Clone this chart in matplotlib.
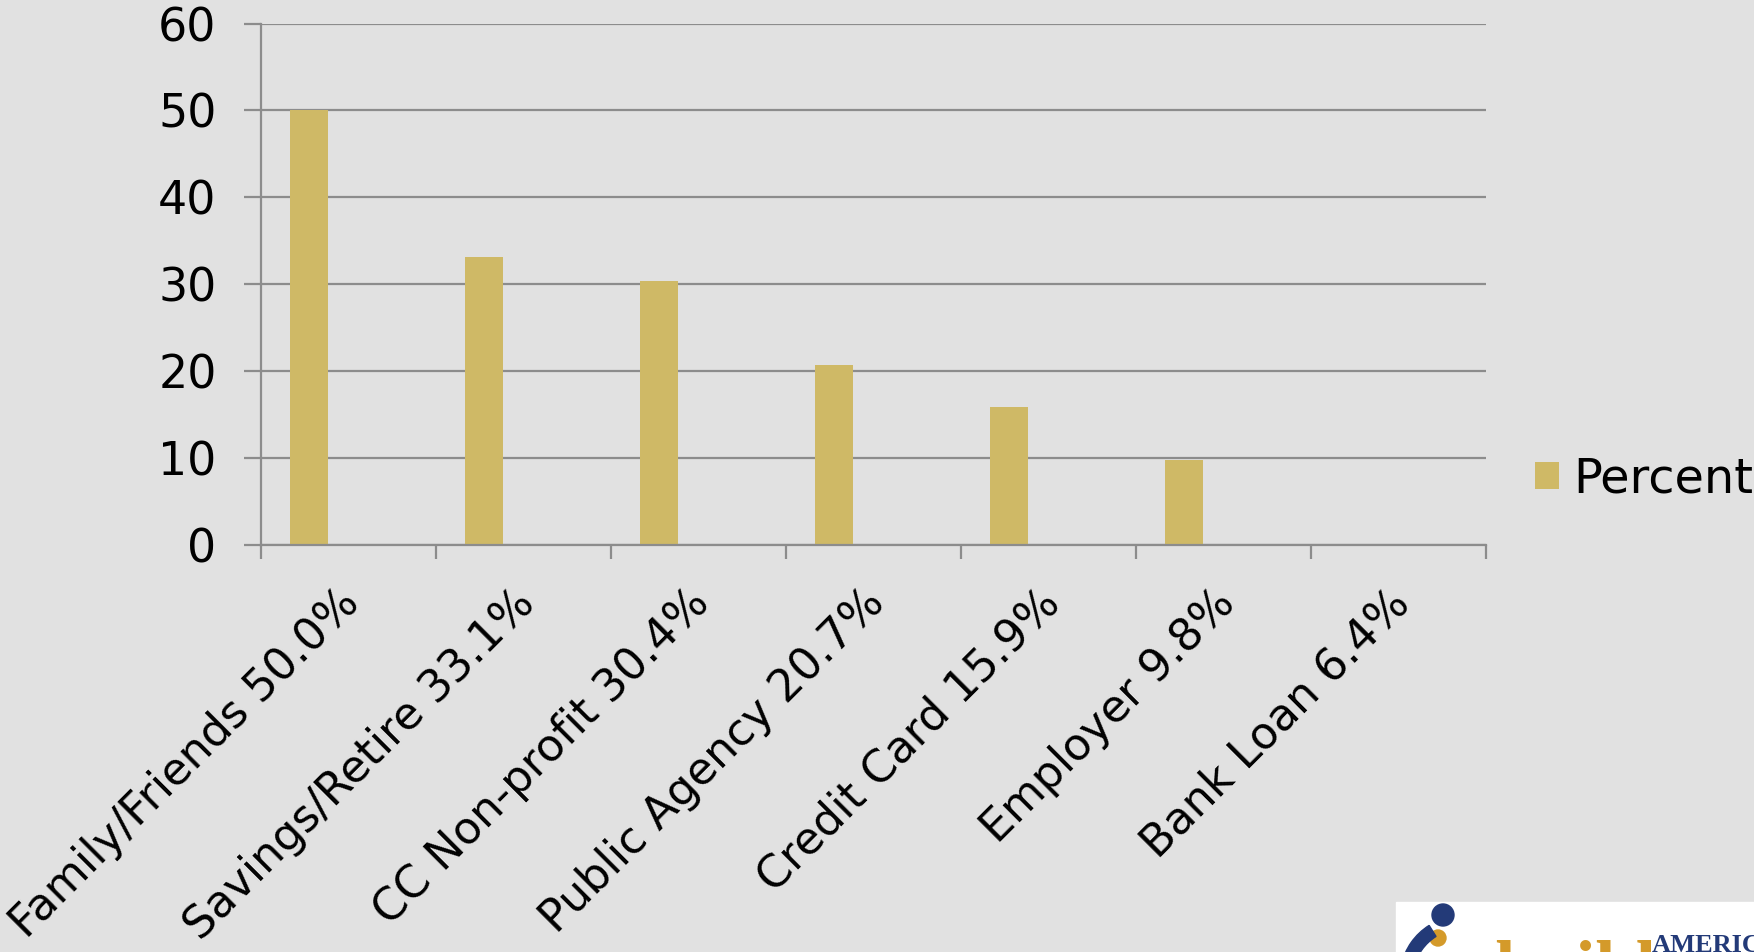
import numpy as np
import matplotlib
matplotlib.use('Agg')
import matplotlib.pyplot as plt
from matplotlib.patches import Rectangle, Circle, Wedge
from matplotlib.transforms import ScaledTranslation

categories = ['Family/Friends 50.0%', 'Savings/Retire 33.1%', 'CC Non-profit 30.4%',
              'Public Agency 20.7%', 'Credit Card 15.9%', 'Employer 9.8%', 'Bank Loan 6.4%']
# Bank Loan has no bar in the source series
percent = [50.0, 33.1, 30.4, 20.7, 15.9, 9.8, np.nan]
series_name = 'Percent'
y_ticks = [0, 10, 20, 30, 40, 50, 60]

BG = '#e1e1e1'
BAR = '#cfb966'
GRID = '#8c8c8c'
NAVY = '#233a78'
GOLD = '#d49a2a'

plt.rcParams['font.family'] = ['DejaVu Sans']

W, H = 1754, 952
fig = plt.figure(figsize=(W / 100, H / 100), dpi=100, facecolor=BG)
ax = fig.add_axes([261 / W, 1 - 545 / H, (1486 - 261) / W, (545 - 23.5) / H])
ax.set_facecolor(BG)

x = np.arange(len(categories))
ax.bar(x - 0.225, percent, width=0.22, color=BAR, label=series_name, zorder=3)

ax.set_xlim(-0.5, len(categories) - 0.5)
ax.set_ylim(0, 60)
ax.set_yticks(y_ticks)
ax.yaxis.grid(True, color=GRID, lw=1.6, zorder=0)
ax.tick_params(axis='y', length=12, width=1.6, color=GRID, pad=20, labelsize=33)

ax.set_xticks(x)
ax.set_xticklabels(categories, rotation=45, ha='right', rotation_mode='anchor', fontsize=32)
ax.tick_params(axis='x', which='major', length=0, pad=26)
shift = ScaledTranslation(-11 / 100, 0, fig.dpi_scale_trans)
for lbl in ax.get_xticklabels():
    lbl.set_transform(lbl.get_transform() + shift)
ax.set_xticks(np.arange(len(categories) + 1) - 0.5, minor=True)
ax.tick_params(axis='x', which='minor', length=10, width=1.6, color=GRID)

for s in ['top', 'right']:
    ax.spines[s].set_visible(False)
for s in ['left', 'bottom']:
    ax.spines[s].set_color(GRID)
    ax.spines[s].set_linewidth(1.6)
    ax.spines[s].set_zorder(4)

fig.legend(loc='center left', bbox_to_anchor=(1535 / W, 1 - 479 / H), frameon=False,
           fontsize=34.5, handlelength=0.5, handleheight=0.5, handletextpad=0.3,
           borderpad=0, borderaxespad=0)

# logo strip in the lower right corner, in pixel coordinates (y down)
lg = fig.add_axes([0, 0, 1, 1], zorder=5)
lg.set_xlim(0, W)
lg.set_ylim(H, 0)
lg.axis('off')
lg.patch.set_alpha(0)
lg.add_patch(Rectangle((1396, 902), W - 1396, 60, color='white'))
lg.add_patch(Circle((1443, 915), 11, color=NAVY))
lg.add_patch(Circle((1438, 938), 8, color=GOLD))
lg.add_patch(Wedge((1462, 978), 62, 192, 238, width=13, color=NAVY))
lg.text(1652, 952, 'AMERICA', color=NAVY, fontsize=19, fontweight='bold',
        family='Liberation Serif', va='baseline')
lg.text(1495, 990, 'build', color=GOLD, fontsize=52, fontweight='bold',
        family='Liberation Serif', va='baseline')

fig.savefig('out.png', dpi=100, facecolor=BG)
